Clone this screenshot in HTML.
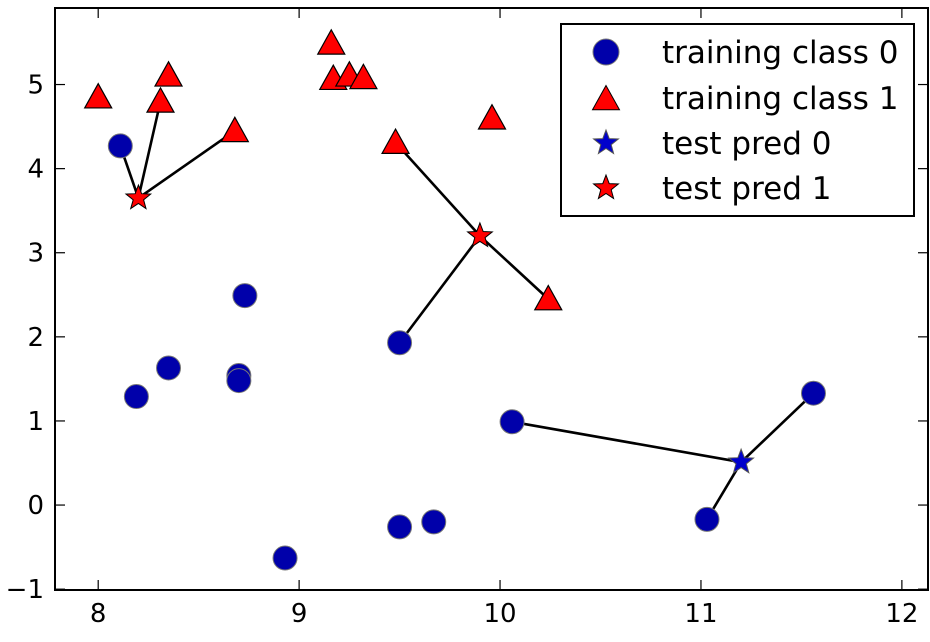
<!DOCTYPE html>
<html><head><meta charset="utf-8"><style>
html,body{margin:0;padding:0;background:#fff;width:930px;height:642px;overflow:hidden}
svg{display:block;font-family:"DejaVu Sans","Liberation Sans",sans-serif}
</style></head><body>
<svg id="chart" width="930" height="642"></svg>
<script>
const xTicks=[8,9,10,11,12];
const yTicks=[-1,0,1,2,3,4,5];
const class0X=[8.11,8.73,8.35,8.19,8.70,8.70,8.93,9.50,9.50,9.67,10.06,11.03,11.56];
const class0Y=[4.27,2.49,1.63,1.29,1.54,1.48,-0.63,1.93,-0.26,-0.20,0.99,-0.17,1.33];
const class1X=[8.00,8.35,8.31,8.68,9.16,9.17,9.25,9.32,9.48,9.96,10.24];
const class1Y=[4.85,5.11,4.80,4.45,5.49,5.07,5.11,5.08,4.31,4.60,2.45];
const testX=[8.20,9.90,11.20];
const testY=[3.65,3.20,0.51];
const testPred=[1,1,0];
const neighborsClass=[[0,1,1],[1,0,1],[0,0,0]];
const neighborsIdx=[[0,2,3],[8,7,10],[10,11,12]];
const L=55,R=928,T=8,B=590;
const x0=7.785,x1=12.13,y0=-1.01,y1=5.91;
const sx=v=>L+(v-x0)/(x1-x0)*(R-L);
const sy=v=>B-(v-y0)/(y1-y0)*(B-T);
const svg=document.getElementById('chart');
const NS='http://www.w3.org/2000/svg';
function mk(t,a,p){const e=document.createElementNS(NS,t);for(const k in a)e.setAttribute(k,a[k]);(p||svg).appendChild(e);return e;}
function starPts(cx,cy,r){let p=[];for(let i=0;i<10;i++){const rr=i%2?r*0.42:r;const a=-Math.PI/2+i*Math.PI/5;p.push((cx+rr*Math.cos(a)).toFixed(1)+','+(cy+rr*Math.sin(a)).toFixed(1));}return p.join(' ');}
function triPts(cx,cy,s){return `${cx},${cy-s} ${cx-s},${cy+s*0.8} ${cx+s},${cy+s*0.8}`;}
testX.forEach((tx,i)=>{neighborsIdx[i].forEach((n,j)=>{const c=neighborsClass[i][j];const nx=c?class1X[n]:class0X[n],ny=c?class1Y[n]:class0Y[n];
const l=mk('line',{x1:sx(tx),y1:sy(testY[i]),x2:sx(nx),y2:sy(ny),stroke:'#000','stroke-width':2.6});

});});
class0X.forEach((x,i)=>{const c=mk('circle',{cx:sx(x),cy:sy(class0Y[i]),r:12,fill:'#0000aa',stroke:'#777','stroke-width':1});

});
class1X.forEach((x,i)=>{const t=mk('polygon',{points:triPts(sx(x),sy(class1Y[i]),13.5),fill:'#ff0000',stroke:'#000','stroke-width':1.2});

});
testX.forEach((x,i)=>{const s=mk('polygon',{points:starPts(sx(x),sy(testY[i]),13),fill:testPred[i]?'#ff0000':'#0000cc',stroke:testPred[i]?'#000':'#555','stroke-width':1});

});
const f=mk('rect',{x:L,y:T,width:R-L,height:B-T,fill:'none',stroke:'#000','stroke-width':2});


xTicks.forEach(v=>{const X=sx(v);mk('line',{x1:X,y1:B,x2:X,y2:B-10,stroke:'#000','stroke-width':1.2});mk('line',{x1:X,y1:T,x2:X,y2:T+10,stroke:'#000','stroke-width':1.2});
const t=mk('text',{x:X,y:B+32,'text-anchor':'middle','font-size':26,fill:'#000'});t.textContent=v;

});
yTicks.forEach(v=>{const Y=sy(v);mk('line',{x1:L,y1:Y,x2:L+10,y2:Y,stroke:'#000','stroke-width':1.2});mk('line',{x1:R,y1:Y,x2:R-10,y2:Y,stroke:'#000','stroke-width':1.2});
const t=mk('text',{x:L-11,y:Y+9,'text-anchor':'end','font-size':26,fill:'#000'});t.textContent=v<0?'\u2212'+(-v):v;

});
const g=mk('g',{});


mk('rect',{x:561,y:24,width:353,height:192,fill:'#fff',stroke:'#000','stroke-width':2},g);
const labels=['training class 0','training class 1','test pred 0','test pred 1'];
const rows=[52,98,143,188];
mk('circle',{cx:606,cy:rows[0],r:13,fill:'#0000aa',stroke:'#777'},g);
mk('polygon',{points:triPts(606,rows[1]+1,13.5),fill:'#ff0000',stroke:'#000'},g);
mk('polygon',{points:starPts(606,rows[2],13),fill:'#0000cc',stroke:'#555'},g);
mk('polygon',{points:starPts(606,rows[3],13),fill:'#ff0000',stroke:'#000'},g);
labels.forEach((s,i)=>{const t=mk('text',{x:662,y:rows[i]+11,'font-size':31,fill:'#000'},g);t.textContent=s;

});
</script>
</body></html>
